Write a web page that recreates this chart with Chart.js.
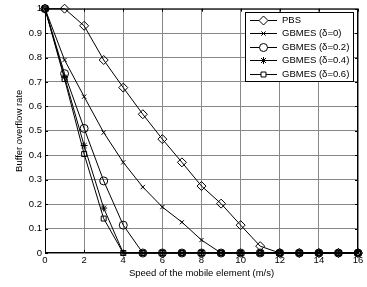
<!DOCTYPE html>
<html><head><meta charset="utf-8">
<script src="https://cdn.jsdelivr.net/npm/chart.js@4/dist/chart.umd.min.js"></script>
<style>html,body{margin:0;padding:0;background:#fff}#c{display:block}</style>
</head><body>
<div style="width:367px;height:287px"><canvas id="c" width="367" height="287"></canvas></div>
<script>
const speeds = [0,1,2,3,4,5,6,7,8,9,10,11,12,13,14,15,16];
const pbs     = [1,1,0.93,0.79,0.677,0.568,0.466,0.371,0.274,0.202,0.114,0.028,0,0,0,0,0];
const gbmes0  = [1,0.79,0.64,0.493,0.371,0.27,0.188,0.126,0.053,0,0,0,0,0,0,0,0];
const gbmes02 = [1,0.734,0.51,0.295,0.114,0,0,0,0,0,0,0,0,0,0,0,0];
const gbmes04 = [1,0.72,0.44,0.184,0,0,0,0,0,0,0,0,0,0,0,0,0];
const gbmes06 = [1,0.712,0.405,0.141,0,0,0,0,0,0,0,0,0,0,0,0,0];
const seriesNames = ['PBS','GBMES (\u03b4=0)','GBMES (\u03b4=0.2)','GBMES (\u03b4=0.4)','GBMES (\u03b4=0.6)'];
const xTicks = [0,2,4,6,8,10,12,14,16];
const yTicks = [0,0.1,0.2,0.3,0.4,0.5,0.6,0.7,0.8,0.9,1];

const FONT = "'Liberation Sans', Arial, Helvetica, sans-serif";
const styles = [
  {ps:'rectRot', r:4.5},
  {ps:'crossRot', r:3},
  {ps:'circle', r:4},
  {ps:'star', r:3.5},
  {ps:'rect', r:3.5}
];
const allSeries = [pbs,gbmes0,gbmes02,gbmes04,gbmes06];
const datasets = allSeries.map((s,i)=>({
  label: seriesNames[i],
  data: speeds.map((x,j)=>({x:x,y:s[j]})),
  borderColor:'#000', borderWidth:1,
  pointStyle: styles[i].ps, pointRadius: styles[i].r, pointHoverRadius: styles[i].r,
  pointBorderColor:'#000', pointBackgroundColor:'rgba(255,255,255,0)', pointBorderWidth:1,
  fill:false, tension:0, clip:false
}));

const framePlugin = {
  id:'frame',
  afterDatasetsDraw(chart){
    const {ctx, chartArea:a, scales} = chart;
    ctx.save();
    ctx.strokeStyle='#000'; ctx.lineWidth=1;
    ctx.strokeRect(a.left+0.5,a.top+0.5,a.right-a.left-1,a.bottom-a.top-1);
    ctx.beginPath();
    xTicks.forEach(v=>{const px=Math.round(scales.x.getPixelForValue(v))+0.5;
      ctx.moveTo(px,a.bottom); ctx.lineTo(px,a.bottom-3);
      ctx.moveTo(px,a.top); ctx.lineTo(px,a.top+3);});
    yTicks.forEach(v=>{const py=Math.round(scales.y.getPixelForValue(v))+0.5;
      ctx.moveTo(a.left,py); ctx.lineTo(a.left+3,py);
      ctx.moveTo(a.right,py); ctx.lineTo(a.right-3,py);});
    ctx.stroke();
    // legend
    const L = Math.round(a.right)-113, T = Math.round(a.top)+3, W = 108, H = 69;
    ctx.fillStyle='#fff'; ctx.fillRect(L,T,W,H);
    ctx.strokeRect(L+0.5,T+0.5,W,H);
    ctx.font = '9.5px '+FONT; ctx.textBaseline='middle'; ctx.textAlign='left';
    chart.data.datasets.forEach((ds,i)=>{
      const y = Math.round(T+8+i*13.4)+0.5;
      ctx.strokeStyle='#000';
      ctx.beginPath(); ctx.moveTo(L+5,y); ctx.lineTo(L+32,y); ctx.stroke();
      ctx.fillStyle='#fff';
      Chart.helpers.drawPoint(ctx,{pointStyle:ds.pointStyle,radius:ds.pointRadius,borderWidth:1},L+18.5,y);
      ctx.fillStyle='#000';
      ctx.fillText(ds.label, L+37, y);
    });
    ctx.restore();
  }
};
Chart.defaults.font.family = FONT;
Chart.defaults.font.size = 9.5;
Chart.defaults.color = '#000';
new Chart(document.getElementById('c'),{
  type:'line',
  data:{datasets},
  options:{
    responsive:false, animation:false, devicePixelRatio:1,
    layout:{padding:{top:7,right:9,left:0,bottom:0}},
    plugins:{legend:{display:false},tooltip:{enabled:false}},
    scales:{
      x:{type:'linear',min:0,max:16,
        afterBuildTicks(s){s.ticks=xTicks.map(v=>({value:v}));},
        afterFit(s){s.height=34;},
        ticks:{padding:2,maxRotation:0,autoSkip:false},
        grid:{color:'#888',borderDash:[1,2],drawTicks:false,lineWidth:1},
        border:{display:false},
        title:{display:true,text:'Speed of the mobile element (m/s)',padding:{top:2,bottom:8}}
      },
      y:{min:0,max:1,
        afterBuildTicks(s){s.ticks=yTicks.map(v=>({value:v}));},
        afterFit(s){s.width=45;},
        ticks:{padding:3,callback:v=>String(Math.round(v*10)/10)},
        grid:{color:'#888',borderDash:[1,2],drawTicks:false,lineWidth:1},
        border:{display:false},
        title:{display:true,text:'Buffer overflow rate',padding:{top:14,bottom:4}}
      }
    }
  },
  plugins:[framePlugin]
});
</script>
</body></html>
